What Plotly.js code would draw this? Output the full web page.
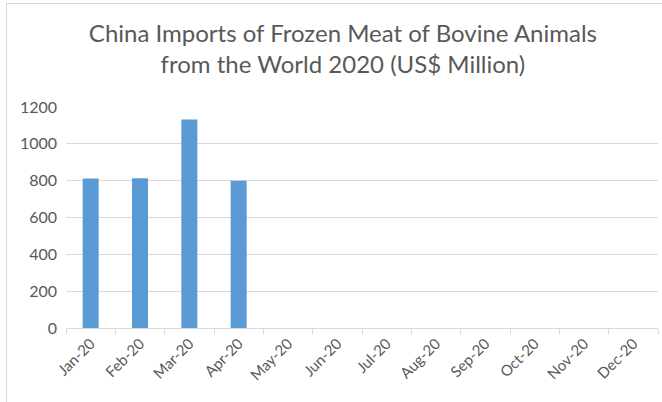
<!DOCTYPE html>
<html>
<head>
<meta charset="utf-8">
<script src="https://cdn.plot.ly/plotly-3.0.1.min.js"></script>
<style>
html,body{margin:0;padding:0;background:#fff;overflow:hidden;}
#chart{width:662px;height:402px;position:absolute;left:0;top:0;}
#frame{position:absolute;left:6px;top:3px;width:700px;height:500px;border:1px solid #d9d9d9;pointer-events:none;}
</style>
</head>
<body>
<div id="chart"></div>
<div id="frame"></div>
<script>
const months = ["Jan-20","Feb-20","Mar-20","Apr-20","May-20","Jun-20","Jul-20","Aug-20","Sep-20","Oct-20","Nov-20","Dec-20"];
const imports = [812, 813, 1132, 799, null, null, null, null, null, null, null, null];
const yTicks = [0, 200, 400, 600, 800, 1000, 1200];

const FONT = "Lato, 'Open Sans', sans-serif";
const trace = {
  type: "bar",
  x: months,
  y: imports,
  marker: {color: "#5b9bd5"},
  hoverinfo: "x+y"
};
const layout = {
  width: 662, height: 402,
  margin: {l: 66, r: 4, t: 107, b: 74},
  paper_bgcolor: "rgba(0,0,0,0)",
  plot_bgcolor: "#fff",
  bargap: 0.675,
  showlegend: false,
  title: {
    text: "China Imports of Frozen Meat of Bovine Animals<br>from the World 2020 (US$ Million)",
    font: {family: FONT, size: 24, color: "#595959"},
    x: 0.518, xanchor: "center", xref: "container",
    y: 0.895, yanchor: "middle", yref: "container"
  },
  xaxis: {
    type: "category",
    categoryorder: "array",
    categoryarray: months,
    tickangle: -45,
    tickson: "boundaries",
    ticks: "outside",
    ticklen: 5,
    tickcolor: "#d9d9d9",
    showline: true,
    linecolor: "#d9d9d9",
    linewidth: 1,
    showgrid: false,
    tickfont: {family: FONT, size: 15, color: "#595959"},
    fixedrange: true
  },
  yaxis: {
    range: [0, 1200],
    tickvals: yTicks,
    ticktext: yTicks.map(String),
    showgrid: true,
    gridcolor: "#d9d9d9",
    gridwidth: 1,
    zeroline: false,
    showline: false,
    ticks: "",
    tickfont: {family: FONT, size: 16, color: "#595959"},
    ticklabelstandoff: 8,
    fixedrange: true
  }
};
Plotly.newPlot("chart", [trace], layout, {displayModeBar: false, staticPlot: true});
</script>
</body>
</html>
